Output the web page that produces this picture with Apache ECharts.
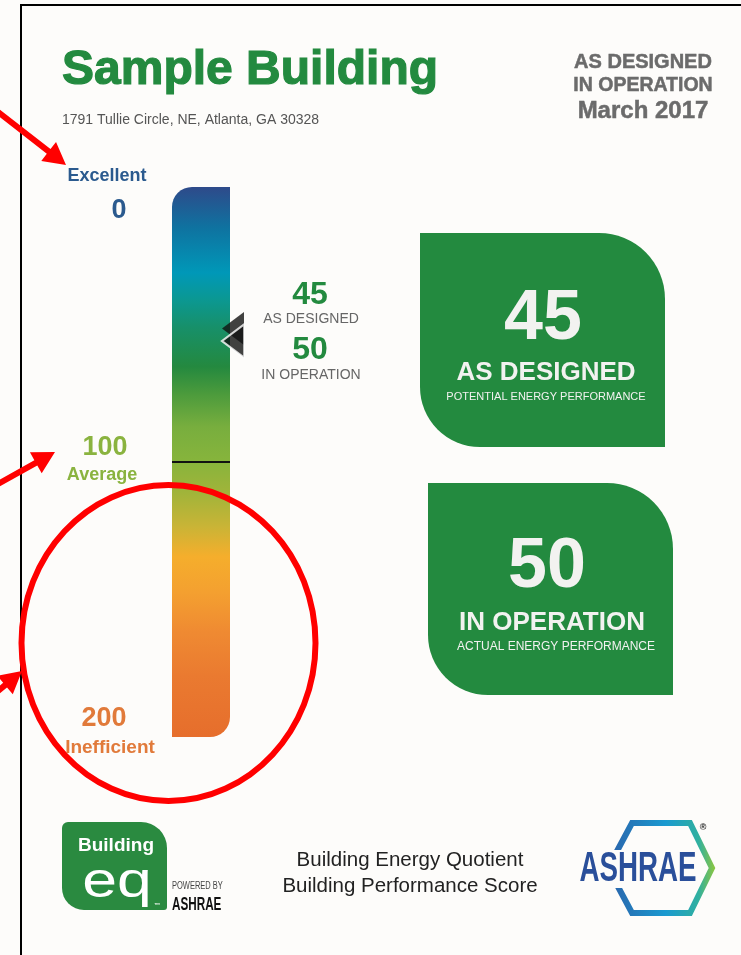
<!DOCTYPE html>
<html>
<head>
<meta charset="utf-8">
<script src="https://cdn.jsdelivr.net/npm/echarts@6.0.0/dist/echarts.min.js"></script>
<style>
html,body{margin:0;padding:0;background:#fdfcfa;}
#chart{width:741px;height:955px;}
</style>
</head>
<body>
<div id="chart"></div>
<script>
// ---- data ----
const buildingName = 'Sample Building';
const buildingAddress = '1791 Tullie Circle, NE, Atlanta, GA 30328';
const reportDate = 'March 2017';
const scaleCategory = ['Score'];
const scaleMin = 0;
const scaleMax = 200;
const scaleTicks = [0, 100, 200];
const scaleWords = ['Excellent', 'Average', 'Inefficient'];
const scoreLabels = ['AS DESIGNED', 'IN OPERATION'];
const scoreValues = [45, 50];
const scoreSubtitles = ['POTENTIAL ENERGY PERFORMANCE', 'ACTUAL ENERGY PERFORMANCE'];
const footerLines = ['Building Energy Quotient', 'Building Performance Score'];

// ---- styling ----
const FONT = '"Liberation Sans", Arial, sans-serif';
const GREEN = '#238a3f';
const BG = '#fdfcfa';
const tickColors = ['#2b5a8e', '#8ab33f', '#e17a3a'];
const tickNumPos = [[119, 211], [105, 448], [104, 719]];
const tickWordPos = [[107, 176], [102, 475], [110, 748]];
const tickWordSize = [18, 18, 19];

const chart = echarts.init(document.getElementById('chart'), null, {renderer: 'canvas'});

const barStops = [
  [0, '#2e4a8a'], [0.073, '#0f72a0'], [0.156, '#0098b8'], [0.205, '#0b9892'],
  [0.254, '#17906a'], [0.327, '#24893f'], [0.374, '#4a9a3c'], [0.436, '#78ae3e'],
  [0.495, '#86b43c'], [0.555, '#a0b43a'], [0.617, '#c9b436'], [0.672, '#f5ae2c'],
  [0.737, '#f4a030'], [0.809, '#ef8a32'], [0.889, '#ea7a30'], [1, '#e66e2c']
].map(s => ({offset: s[0], color: s[1]}));

const g = [];
function txt(text, x, y, font, fill, align, extra, styleExtra) {
  return Object.assign({type: 'text', x: x, y: y, z: 10,
    style: Object.assign({text: text, font: font, fill: fill, textAlign: align || 'center', textVerticalAlign: 'middle'}, styleExtra || {})}, extra || {});
}

// frame
g.push({type: 'rect', z: 1, shape: {x: 21, y: 5, width: 740, height: 960},
  style: {fill: 'none', stroke: '#000', lineWidth: 2}});

// header
g.push(txt(buildingName, 62, 71, 'bold 48px ' + FONT, GREEN, 'left', null, {stroke: GREEN, lineWidth: 1.2}));
g.push(txt(buildingAddress, 62, 120, '14px ' + FONT, '#555', 'left'));
g.push(txt(scoreLabels[0], 643, 62, 'bold 20px ' + FONT, '#6b6b6b', 'center', null, {stroke: '#6b6b6b', lineWidth: 0.5}));
g.push(txt(scoreLabels[1], 643, 86, 'bold 19.5px ' + FONT, '#6b6b6b', 'center', null, {stroke: '#6b6b6b', lineWidth: 0.5}));
g.push(txt(reportDate, 643, 111, 'bold 24px ' + FONT, '#6b6b6b', 'center', null, {stroke: '#6b6b6b', lineWidth: 0.5}));

// scale labels
scaleTicks.forEach((t, i) => {
  g.push(txt(String(t), tickNumPos[i][0], tickNumPos[i][1], 'bold 27px ' + FONT, tickColors[i]));
  g.push(txt(scaleWords[i], tickWordPos[i][0], tickWordPos[i][1], 'bold ' + tickWordSize[i] + 'px ' + FONT, tickColors[i]));
});

// marker labels
const mlY = [[295, 319], [350, 375]];
scoreValues.forEach((v, i) => {
  g.push(txt(String(v), 310, mlY[i][0], 'bold 32px ' + FONT, GREEN));
  g.push(txt(scoreLabels[i], 311, mlY[i][1], '14px ' + FONT, '#666'));
});

// score boxes
const boxes = [
  {x: 420, y: 233, w: 245, h: 214, num: [543, 320], lab: [546, 373], sub: [546, 397], subSize: 11},
  {x: 428, y: 483, w: 245, h: 212, num: [547, 568], lab: [552, 623], sub: [556, 647], subSize: 12}
];
boxes.forEach((b, i) => {
  g.push({type: 'rect', z: 5, shape: {x: b.x, y: b.y, width: b.w, height: b.h, r: [0, 66, 0, 60]},
    style: {fill: '#238a3f'}});
  g.push(txt(String(scoreValues[i]), b.num[0], b.num[1], 'bold 70px ' + FONT, '#f2f2f0'));
  g.push(txt(scoreLabels[i], b.lab[0], b.lab[1], 'bold 26px ' + FONT, '#f2f2f0'));
  g.push(txt(scoreSubtitles[i], b.sub[0], b.sub[1], b.subSize + 'px ' + FONT, '#f2f2f0'));
});

// footer: Building EQ logo
g.push({type: 'rect', z: 5, shape: {x: 62, y: 822, width: 105, height: 88, r: [6, 26, 3, 22]}, style: {fill: '#2a8a40'}});
g.push(txt('Building', 116, 846, 'bold 19px ' + FONT, '#fff'));
g.push(txt('eq', 117, 883, '50px ' + FONT, '#fff', 'center', {scaleX: 1.25}));
g.push(txt('™', 157, 905, 'bold 6px ' + FONT, '#fff'));
g.push(txt('POWERED BY', 172, 886, '10px ' + FONT, '#444', 'left', {scaleX: 0.75}));
g.push(txt('ASHRAE', 172, 905, 'bold 18px ' + FONT, '#111', 'left', {scaleX: 0.65}));
// footer text
g.push(txt(footerLines[0], 410, 860, '20.5px ' + FONT, '#222'));
g.push(txt(footerLines[1], 410, 886, '20.5px ' + FONT, '#222'));
// ASHRAE logo
g.push({type: 'polygon', z: 5, shape: {points: [[608, 868], [632, 823], [690, 823], [712, 868], [690, 913], [632, 913]]},
  style: {fill: 'none', lineWidth: 6, stroke: new echarts.graphic.LinearGradient(0, 0, 1, 0, [
    {offset: 0, color: '#2c5fa8'}, {offset: 0.55, color: '#1a9ad0'}, {offset: 0.85, color: '#30b0a0'}, {offset: 1, color: '#8cc63f'}])}});
g.push({type: 'rect', z: 6, shape: {x: 582, y: 850, width: 114, height: 38}, style: {fill: BG}});
g.push(txt('ASHRAE', 638, 869, 'bold 42px ' + FONT, '#2a4f9a', 'center', {scaleX: 0.66}));
g.push(txt('®', 703, 828, 'bold 9px ' + FONT, '#222'));

// red annotations
function arrow(tail, tip) {
  const dx = tip[0] - tail[0], dy = tip[1] - tail[1];
  const L = Math.sqrt(dx * dx + dy * dy), ux = dx / L, uy = dy / L, nx = -uy, ny = ux;
  const hl = 22, hw = 12, sw = 3;
  const bx = tip[0] - ux * hl, by = tip[1] - uy * hl;
  return {type: 'polygon', z: 100, shape: {points: [
    [tail[0] + nx * sw, tail[1] + ny * sw], [bx + nx * sw, by + ny * sw], [bx + nx * hw, by + ny * hw],
    [tip[0], tip[1]], [bx - nx * hw, by - ny * hw], [bx - nx * sw, by - ny * sw], [tail[0] - nx * sw, tail[1] - ny * sw]]},
    style: {fill: '#ff0000'}};
}
g.push(arrow([-2, 112], [66, 165]));
g.push(arrow([-2, 484], [55, 452]));
g.push(arrow([-8, 696], [22, 671]));
g.push({type: 'ellipse', z: 100, shape: {cx: 168.5, cy: 643, rx: 147, ry: 158},
  style: {fill: 'none', stroke: '#ff0000', lineWidth: 6}});

const option = {
  backgroundColor: BG,
  animation: false,
  grid: {left: 172, width: 58, top: 212, height: 500, containLabel: false},
  xAxis: {type: 'category', data: scaleCategory, show: false},
  yAxis: {type: 'value', min: scaleMin, max: scaleMax, inverse: true, show: false},
  series: [
    {
      type: 'custom',
      z: 2,
      data: [[0, scaleMin, scaleMax]],
      renderItem: function (params, api) {
        const top = api.coord([api.value(0), api.value(1)]);
        const bot = api.coord([api.value(0), api.value(2)]);
        const w = api.size([1, 0])[0];
        const cap = 25;
        return {
          type: 'rect',
          shape: {x: top[0] - w / 2, y: top[1] - cap, width: w, height: bot[1] - top[1] + 2 * cap, r: [20, 0, 20, 0]},
          style: {fill: new echarts.graphic.LinearGradient(0, 0, 0, 1, barStops)}
        };
      }
    },
    {
      type: 'scatter',
      z: 5,
      symbol: 'triangle',
      symbolSize: [33, 22],
      symbolRotate: 90,
      symbolOffset: [32, 4],
      data: scoreValues.map((v, i) => ({
        value: [0, v],
        itemStyle: i === 0 ? {color: '#111'} : {color: '#111', borderColor: '#fff', borderWidth: 2}
      })),
      markLine: {
        silent: true,
        symbol: 'none',
        label: {show: false},
        lineStyle: {color: '#111', width: 2, type: 'solid'},
        data: [{yAxis: scaleTicks[1]}]
      }
    }
  ],
  graphic: {elements: g}
};
chart.setOption(option);
</script>
</body>
</html>
